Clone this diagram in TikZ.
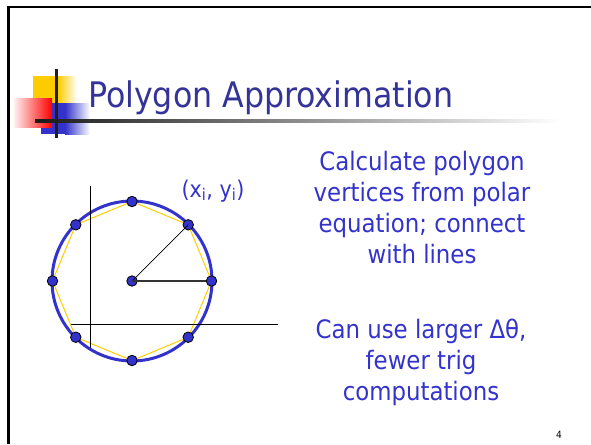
\documentclass[tikz,border=0pt]{standalone}
\usepackage{fontspec}
\setmainfont{DejaVu Sans Condensed}
\usepackage{tikz}
\usetikzlibrary{calc,backgrounds}
\definecolor{titleblue}{RGB}{51,51,153}
\definecolor{textblue}{RGB}{51,51,204}
\definecolor{ringblue}{RGB}{51,51,204}
\definecolor{gold}{RGB}{255,204,0}
\definecolor{barred}{RGB}{255,0,0}

\begin{document}
\begin{tikzpicture}[x=1pt,y=-1pt,>=latex]
\tikzset{vtx/.style={circle,draw=black,fill=ringblue,minimum size=10.5pt,inner sep=0pt,line width=0.8pt},
 body/.style={text=textblue,font=\fontsize{25.4}{31}\selectfont,align=center,anchor=north}}
\useasboundingbox (0,0) rectangle (591,444);
% slide frame
\fill[black] (7,6) rectangle (591,8.5);
\fill[black] (7,6) rectangle (9.5,444);
% title decoration
\fill[gold] (33,76) rectangle (58,103);
\shade[left color=gold,right color=white] (58,76) rectangle (77,103);
\fill[textblue] (41,103) rectangle (65,134);
\shade[left color=textblue,right color=white] (65,103) rectangle (90,134);
\shade[left color=barred!6,right color=barred] (14,98) rectangle (52,127);
\shade[left color=black!90,right color=white] (35,119.5) rectangle (560,122.5);
\fill[black!88] (54.5,69) rectangle (57.5,138);
\node[anchor=base west,inner sep=0pt,text=titleblue,font=\fontsize{35.2}{40}\selectfont] (title) at (88,107.5) {Polygon Approximation};
% circle and polygon
\coordinate (c) at (132,281);
\draw[ringblue,line width=3pt] (c) circle (80);
\foreach \i in {0,...,7}
  \node[vtx] (v\i) at ($(c)+(-\i*45:79.5)$) {};
\node[vtx] (o) at (c) {};
\begin{scope}[on background layer]
\draw[gold,line width=1pt] (v0.center) -- (v1.center) -- (v2.center) -- (v3.center) -- (v4.center) -- (v5.center) -- (v6.center) -- (v7.center) -- cycle;
\end{scope}
\draw[black,line width=0.7pt] (o.center) -- (v1.center);
\draw[black!80,line width=1.4pt] (o.center) -- (v0.west);
% axes
\coordinate (ytop) at (90,186);
\coordinate (ybot) at (90,348);
\coordinate (xl) at (71,324);
\coordinate (xr) at (278,324);
\draw[black,line width=0.8pt] (ytop) -- (ybot);
\draw[black,line width=0.8pt] (xl) -- (xr);
\node[text=textblue,font=\fontsize{23}{28}\selectfont,anchor=base] (lab) at (213,197) {(x\textsubscript{i}, y\textsubscript{i})};
% text
\node[body] (p1) at (422,148) {Calculate polygon\\vertices from polar\\equation; connect\\with lines};
\node[body] (p2) at (421,315) {Can use larger Δθ,\\fewer trig\\computations};
\node[anchor=base,font=\fontsize{10}{12}\selectfont,inner sep=0pt] (pg) at (559,438) {4};
\end{tikzpicture}
\end{document}
